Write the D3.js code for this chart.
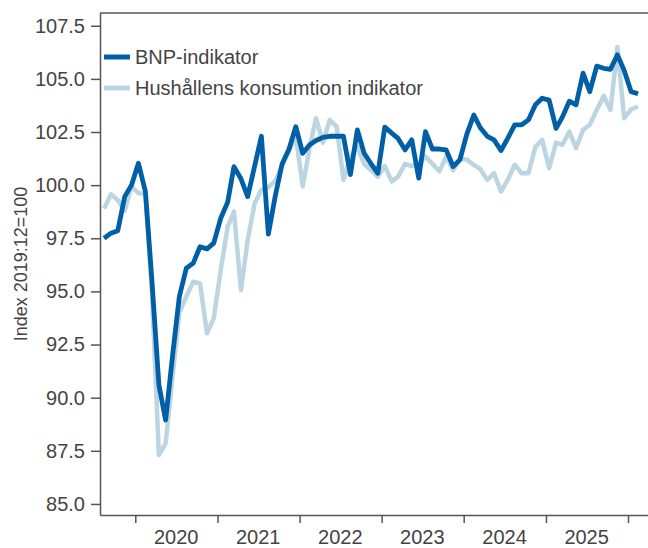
<!DOCTYPE html>
<html>
<head>
<meta charset="utf-8">
<script src="https://cdn.jsdelivr.net/npm/d3@7"></script>
<style>
  body { margin: 0; background: #fff; overflow: hidden; }
  svg { display: block; }
  text { font-family: "Liberation Sans", Arial, sans-serif; }
</style>
</head>
<body>
<svg id="chart" width="648" height="548"></svg>
<script>
// monthly, Aug 2019 .. Feb 2026
var startMonth = new Date(2019, 7, 15);
var bnp = [97.5, 97.74, 97.85, 99.46, 100.0, 101.03, 99.7, 95.5, 90.6, 88.95,
  92.0, 94.76, 96.09, 96.33, 97.1, 97.0, 97.27, 98.44, 99.2, 100.87,
  100.3, 99.46, 100.9, 102.3, 97.7, 99.5, 101.0, 101.7, 102.75, 101.5,
  101.9, 102.1, 102.25, 102.3, 102.3, 102.3, 100.5, 102.6, 101.5, 101.0,
  100.56, 102.73, 102.45, 102.2, 101.66, 102.13, 100.33, 102.52, 101.7, 101.7,
  101.66, 100.88, 101.19, 102.4, 103.3, 102.7, 102.3, 102.13, 101.63, 102.2,
  102.84, 102.84, 103.07, 103.78, 104.09, 104.0, 102.67, 103.2, 103.95, 103.78,
  105.27, 104.4, 105.6, 105.5, 105.45, 106.13, 105.4, 104.4, 104.3];
var hush = [98.9, 99.57, 99.3, 98.8, 99.93, 99.62, 99.6, 95.0, 87.3, 87.85,
  91.0, 94.0, 94.76, 95.46, 95.38, 93.03, 93.73, 96.0, 98.05, 98.76,
  95.07, 97.4, 99.15, 99.78, 99.9, 100.2, 100.9, 101.6, 102.3, 99.94,
  101.8, 103.15, 102.0, 103.07, 102.75, 100.25, 101.35, 101.8, 101.0, 100.7,
  100.4, 100.9, 100.17, 100.4, 101.0, 100.9, 101.0, 101.35, 101.0, 100.65,
  101.35, 100.7, 101.25, 101.2, 100.95, 100.75, 100.25, 100.56, 99.7, 100.25,
  100.96, 100.56, 100.56, 101.8, 102.13, 100.8, 102.0, 101.9, 102.52, 101.74,
  102.6, 102.84, 103.54, 104.2, 103.54, 106.5, 103.15, 103.57, 103.7];
var seriesNames = ['BNP-indikator', 'Hushållens konsumtion indikator'];
var years = [2020, 2021, 2022, 2023, 2024, 2025];
var yTicks = [85, 87.5, 90, 92.5, 95, 97.5, 100, 102.5, 105, 107.5];

var svg = d3.select('#chart');
var pLeft = 100, pRight = 648, pTop = 13, pBottom = 515;
var dark = '#005FA6', light = '#BCD5E2', txt = '#444444', axisCol = '#555555';

var dates = bnp.map(function(d, i) { return d3.timeMonth.offset(startMonth, i); });
var xs = d3.scaleTime()
  .domain([new Date(2019, 6, 28), new Date(2026, 2, 31)])
  .range([pLeft, pRight]);
var ys = d3.scaleLinear().domain([84.48, 108.1]).range([pBottom, pTop]);

// y axis
var yAxis = svg.append('g')
  .attr('transform', 'translate(' + pLeft + ',0)')
  .call(d3.axisLeft(ys).tickValues(yTicks).tickFormat(d3.format('.1f')).tickSize(9).tickSizeOuter(0).tickPadding(6));
yAxis.selectAll('text').attr('font-size', 20).attr('fill', txt);
yAxis.selectAll('line').attr('stroke', axisCol).attr('stroke-width', 1.5);
yAxis.select('.domain').attr('stroke', axisCol).attr('stroke-width', 1.5);

// x axis: ticks at year starts, labels at mid-year
var tickDates = years.map(function(y) { return new Date(y, 0, 1); }).concat([new Date(2026, 0, 1)]);
var xAxis = svg.append('g')
  .attr('transform', 'translate(0,' + pBottom + ')')
  .call(d3.axisBottom(xs).tickValues(tickDates).tickFormat('').tickSize(8).tickSizeOuter(0));
xAxis.selectAll('line').attr('stroke', axisCol).attr('stroke-width', 1.5);
xAxis.select('.domain').attr('stroke', axisCol).attr('stroke-width', 1.5);
svg.append('g').selectAll('text')
  .data(years)
  .enter()
  .append('text')
    .attr('x', function(d) { return xs(new Date(d, 6, 1)); })
    .attr('y', 544)
    .attr('text-anchor', 'middle')
    .attr('font-size', 20)
    .attr('fill', txt)
    .text(function(d) { return d; });

// top border
svg.append('line')
  .attr('x1', pLeft).attr('x2', pRight)
  .attr('y1', pTop).attr('y2', pTop)
  .attr('stroke', axisCol).attr('stroke-width', 1.5);

// y title
svg.append('text')
  .attr('transform', 'translate(27,' + ((pTop + pBottom) / 2) + ') rotate(-90)')
  .attr('text-anchor', 'middle')
  .attr('font-size', 18)
  .attr('fill', txt)
  .text('Index 2019:12=100');

var line = d3.line()
  .x(function(d, i) { return xs(dates[i]); })
  .y(function(d) { return ys(d); });

svg.append('path').datum(hush)
  .attr('d', line).attr('fill', 'none')
  .attr('stroke', light).attr('stroke-width', 4.5).attr('stroke-linejoin', 'round');
svg.append('path').datum(bnp)
  .attr('d', line).attr('fill', 'none')
  .attr('stroke', dark).attr('stroke-width', 4.8).attr('stroke-linejoin', 'round');

// legend
var lg = svg.append('g').selectAll('g')
  .data(seriesNames)
  .enter()
  .append('g')
    .attr('transform', function(d, i) { return 'translate(104,' + (57 + i * 31) + ')'; });
lg.append('line')
  .attr('x1', 0).attr('x2', 26)
  .attr('stroke', function(d, i) { return i == 0 ? dark : light; })
  .attr('stroke-width', 5);
lg.append('text')
  .attr('x', 31).attr('y', 7)
  .attr('font-size', 20)
  .attr('fill', txt)
  .text(function(d) { return d; });
</script>
</body>
</html>
